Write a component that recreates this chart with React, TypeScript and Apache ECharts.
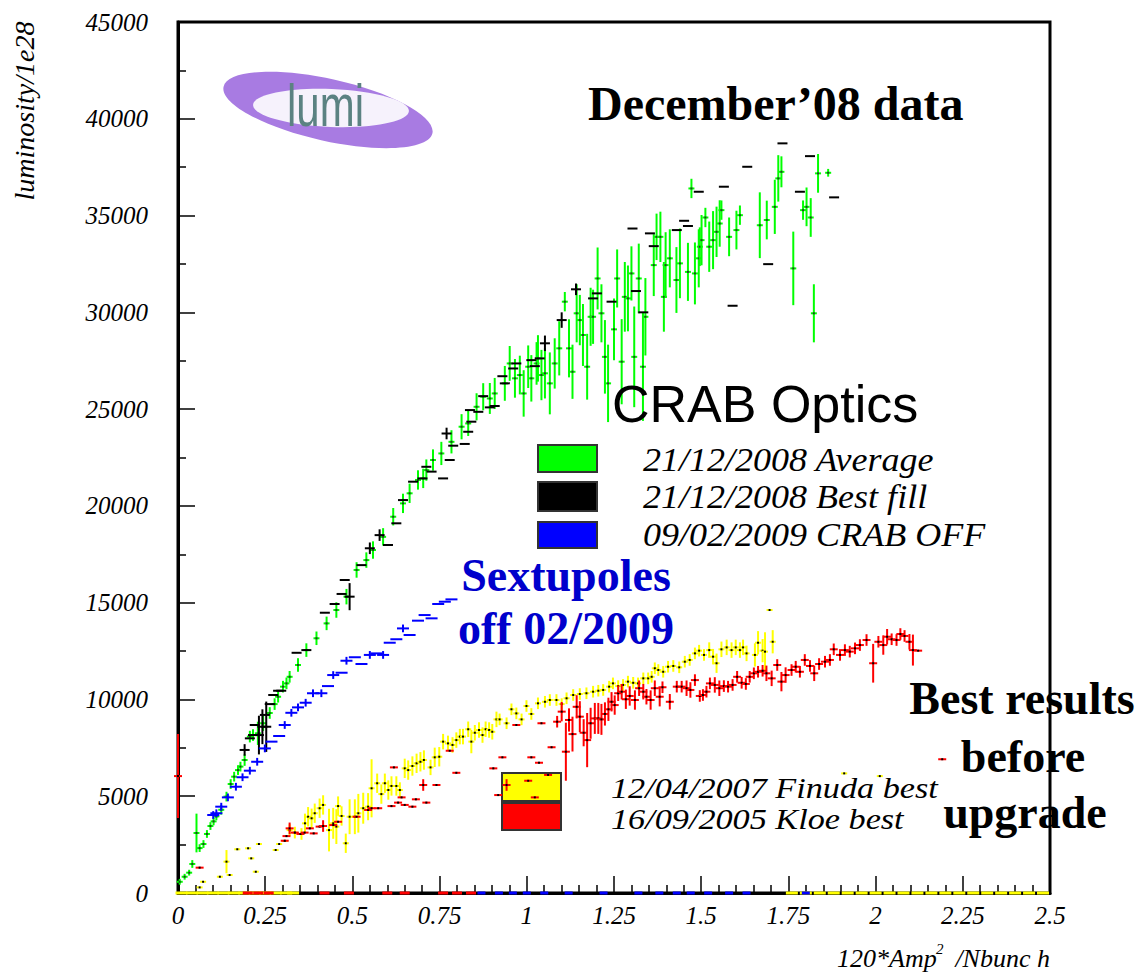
import React, { useEffect, useRef } from "react";
import * as echarts from "echarts";

// ---------------- data: [x, y, yError] ----------------
const greenAverage: number[][] = [
  [0.005, 580, 150], [0.019, 840, 150], [0.032, 1050, 150], [0.041, 1500, 200], [0.053, 3100, 1000],
  [0.062, 2320, 200], [0.073, 2530, 200], [0.083, 3050, 200], [0.093, 3460, 200], [0.102, 3700, 200],
  [0.110, 3960, 200], [0.124, 4300, 250], [0.139, 4980, 250], [0.151, 5630, 250], [0.161, 6010, 250],
  [0.172, 6350, 250], [0.179, 6530, 250], [0.191, 6870, 300], [0.206, 8080, 300], [0.215, 8160, 300],
  [0.229, 8250, 600], [0.244, 8770, 400], [0.263, 9300, 300], [0.277, 9760, 300], [0.287, 10140, 300],
  [0.301, 10660, 300], [0.311, 10830, 300], [0.320, 11170, 300], [0.344, 11780, 350], [0.368, 12550, 350],
  [0.397, 13160, 350], [0.426, 13930, 350], [0.454, 14620, 400], [0.483, 15310, 400], [0.512, 16690, 400],
  [0.540, 17200, 400], [0.559, 17720, 450], [0.588, 18400, 450], [0.617, 19440, 450], [0.645, 20130, 500],
  [0.664, 20650, 500], [0.688, 21340, 500], [0.703, 21420, 500], [0.712, 21850, 550], [0.731, 22370, 550],
  [0.755, 22710, 600], [0.784, 23310, 600], [0.813, 24090, 650], [0.832, 24260, 650], [0.856, 25120, 700],
  [0.875, 25640, 700], [0.894, 25550, 800], [0.908, 25810, 800], [0.937, 26330, 900], [0.951, 27360, 900],
  [0.966, 26590, 1000], [0.980, 26760, 1000], [0.991, 25810, 1200], [1.004, 27190, 1100], [1.013, 26590, 1200],
  [1.028, 27360, 1100], [1.032, 27620, 1200], [1.042, 26760, 1300], [1.052, 26850, 1300], [1.066, 26330, 1600],
  [1.080, 27360, 1300], [1.093, 28140, 1400], [1.109, 30550, 500], [1.121, 28140, 1500], [1.131, 26930, 1400],
  [1.143, 29950, 1500], [1.152, 29600, 1300], [1.161, 28830, 1600], [1.173, 27190, 1700], [1.183, 29770, 1500],
  [1.190, 29770, 1400], [1.203, 31750, 1600], [1.214, 29950, 1500], [1.224, 27700, 1900], [1.233, 26330, 2000],
  [1.250, 29120, 1600], [1.259, 31750, 1500], [1.272, 27450, 2200], [1.281, 30800, 1800], [1.290, 30720, 1700],
  [1.300, 32010, 1400], [1.308, 27700, 2600], [1.321, 31750, 1800], [1.333, 27190, 2800], [1.340, 29770, 2000],
  [1.364, 32440, 1600], [1.372, 33900, 1200], [1.383, 33900, 1300], [1.393, 30800, 1800], [1.398, 32440, 1700],
  [1.410, 32790, 1500], [1.429, 31670, 1700], [1.439, 32530, 1800], [1.462, 32090, 1500], [1.472, 36400, 500],
  [1.482, 32010, 1600], [1.493, 32790, 1500], [1.496, 33390, 1000], [1.501, 33730, 1300], [1.512, 34900, 500],
  [1.523, 33390, 1300], [1.534, 33730, 1500], [1.544, 34160, 1300], [1.553, 34590, 1200], [1.558, 35280, 500],
  [1.580, 33900, 1000], [1.601, 34250, 1000], [1.611, 35020, 500], [1.668, 34500, 1700], [1.688, 34770, 1000],
  [1.711, 35450, 1400], [1.721, 36920, 1200], [1.730, 37260, 800], [1.764, 32270, 1900], [1.792, 35280, 500],
  [1.802, 35450, 1000], [1.814, 34900, 1000], [1.823, 29950, 1500], [1.835, 37180, 1000], [1.864, 37210, 200],
];

const blackBestFill: number[][] = [
  [0.191, 7390, 300], [0.206, 7990, 0], [0.215, 8160, 0], [0.220, 8680, 0], [0.232, 8160, 1000],
  [0.242, 8590, 900], [0.249, 9200, 0], [0.253, 8590, 1300], [0.263, 9760, 0], [0.273, 10230, 0],
  [0.287, 10450, 0], [0.296, 10450, 0], [0.340, 12410, 0], [0.368, 12550, 0], [0.421, 14480, 0],
  [0.449, 14930, 0], [0.469, 15450, 0], [0.478, 16170, 0], [0.492, 15310, 700], [0.526, 16940, 0],
  [0.550, 17810, 300], [0.578, 18490, 300], [0.602, 17980, 0], [0.626, 19100, 0], [0.645, 20300, 0],
  [0.674, 21250, 0], [0.701, 21420, 0], [0.712, 22020, 0], [0.727, 21770, 0], [0.760, 21420, 0],
  [0.770, 23740, 300], [0.779, 22370, 0], [0.789, 23110, 0], [0.822, 23200, 0], [0.832, 23830, 0],
  [0.841, 24350, 0], [0.837, 24950, 0], [0.861, 24860, 0], [0.875, 25670, 0], [0.894, 25090, 0],
  [0.908, 25160, 0], [0.930, 26700, 0], [0.937, 26330, 0], [0.961, 27100, 0], [0.970, 27360, 0],
  [1.013, 27530, 0], [1.023, 27220, 0], [1.037, 27620, 0], [1.052, 28400, 400], [1.100, 29600, 400],
  [1.141, 31190, 300], [1.190, 30720, 0], [1.201, 30980, 0], [1.243, 30550, 0], [1.303, 34330, 0],
  [1.313, 31100, 0], [1.334, 30000, 0], [1.353, 34080, 0], [1.364, 33420, 0], [1.430, 34250, 0],
  [1.451, 34730, 0], [1.462, 34460, 0], [1.493, 36230, 0], [1.565, 36490, 0], [1.590, 30340, 0],
  [1.632, 37520, 0], [1.692, 32490, 0], [1.733, 38730, 0], [1.783, 36230, 0], [1.812, 38070, 0],
  [1.881, 35940, 0],
];

const blueCrabOff: number[][] = [
  [0.101, 4030, 200], [0.110, 4120, 200], [0.124, 4460, 200], [0.143, 4940, 200], [0.166, 5490, 200],
  [0.185, 5980, 200], [0.206, 6320, 200], [0.227, 6780, 200], [0.249, 7470, 200], [0.268, 7820, 0],
  [0.290, 8110, 0], [0.306, 8680, 200], [0.325, 9310, 200], [0.344, 9590, 200], [0.366, 9830, 200],
  [0.387, 10320, 200], [0.411, 10320, 200], [0.430, 10690, 0], [0.445, 11260, 200], [0.469, 11380, 0],
  [0.483, 12000, 200], [0.507, 12180, 0], [0.526, 11830, 0], [0.550, 12300, 200], [0.569, 12380, 0],
  [0.588, 12300, 200], [0.607, 12930, 0], [0.626, 13110, 0], [0.645, 13670, 200], [0.664, 13330, 0],
  [0.688, 14070, 0], [0.707, 14360, 0], [0.727, 14190, 0], [0.746, 14930, 0], [0.765, 15050, 0],
  [0.784, 15170, 0],
];

const yellowFinuda: number[][] = [
  [0.062, 290, 0], [0.072, 580, 0], [0.120, 840, 0], [0.139, 1620, 600], [0.148, 930, 0],
  [0.170, 2260, 0], [0.201, 2310, 0], [0.210, 1790, 0], [0.223, 1100, 0], [0.232, 2530, 0],
  [0.280, 2220, 0], [0.290, 2530, 0], [0.306, 2690, 0], [0.320, 3250, 300], [0.335, 3120, 300],
  [0.354, 3050, 300], [0.364, 3600, 500], [0.373, 3940, 500], [0.383, 3860, 500], [0.392, 4120, 500],
  [0.406, 4380, 500], [0.416, 4550, 500], [0.433, 3250, 1100], [0.445, 3600, 800], [0.454, 3430, 900],
  [0.459, 4490, 500], [0.469, 3980, 500], [0.481, 2570, 500], [0.492, 3940, 900], [0.507, 3940, 900],
  [0.517, 4120, 1000], [0.531, 4380, 800], [0.545, 4460, 700], [0.555, 5410, 1500], [0.571, 5670, 500],
  [0.583, 5110, 500], [0.593, 5670, 500], [0.603, 5320, 500], [0.612, 5530, 500], [0.626, 5530, 500],
  [0.636, 5320, 400], [0.650, 6440, 500], [0.660, 6350, 500], [0.672, 6560, 500], [0.684, 6700, 500],
  [0.695, 6780, 500], [0.705, 6870, 500], [0.724, 6490, 400], [0.736, 7010, 500], [0.749, 7040, 500],
  [0.760, 7820, 400], [0.774, 7730, 400], [0.787, 7650, 400], [0.798, 7900, 400], [0.808, 8080, 400],
  [0.817, 8080, 400], [0.832, 8460, 400], [0.841, 7820, 600], [0.851, 8280, 400], [0.863, 8420, 400],
  [0.873, 8160, 400], [0.882, 8460, 400], [0.892, 8420, 400], [0.901, 8330, 400], [0.913, 8970, 400],
  [0.922, 8970, 300], [0.942, 8770, 300], [0.956, 9490, 300], [0.970, 9280, 300], [0.985, 8970, 300],
  [0.999, 9660, 300], [1.013, 9250, 300], [1.032, 9800, 300], [1.052, 9880, 300], [1.066, 9970, 300],
  [1.085, 9970, 300], [1.100, 9760, 300], [1.114, 10060, 300], [1.133, 10230, 300], [1.152, 10280, 300],
  [1.171, 10320, 300], [1.190, 10400, 300], [1.205, 10450, 300], [1.219, 10490, 300], [1.236, 10660, 300],
  [1.247, 10830, 300], [1.262, 10690, 300], [1.276, 10750, 300], [1.290, 10920, 300], [1.305, 10860, 300],
  [1.319, 10830, 300], [1.334, 11090, 300], [1.348, 11090, 300], [1.358, 11170, 300], [1.367, 11610, 300],
  [1.377, 11520, 300], [1.391, 11430, 300], [1.405, 11690, 300], [1.420, 11730, 300], [1.437, 11660, 300],
  [1.453, 11950, 300], [1.467, 12040, 300], [1.482, 12380, 300], [1.494, 12520, 300], [1.508, 12300, 300],
  [1.523, 12550, 400], [1.534, 12210, 400], [1.544, 11870, 500], [1.558, 12590, 400], [1.573, 12690, 400],
  [1.587, 12550, 400], [1.599, 12690, 400], [1.611, 12550, 400], [1.620, 12690, 400], [1.630, 12380, 400],
  [1.654, 12300, 600], [1.663, 12930, 600], [1.676, 12520, 600], [1.683, 12470, 1000], [1.696, 14620, 0],
  [1.705, 12980, 600], [1.910, 6180, 0], [2.012, 6040, 0],
];

const redKloe: number[][] = [
  [0.000, 6040, 2170], [0.062, 1310, 0], [0.306, 2700, 0], [0.311, 2940, 0], [0.320, 3340, 300],
  [0.335, 3120, 0], [0.351, 3050, 0], [0.363, 3120, 0], [0.378, 3340, 0], [0.389, 3080, 0],
  [0.406, 3430, 0], [0.416, 3460, 300], [0.445, 3510, 0], [0.459, 3680, 0], [0.512, 3940, 0],
  [0.545, 4290, 0], [0.555, 4380, 0], [0.574, 4380, 0], [0.612, 4490, 0], [0.619, 6490, 0],
  [0.631, 4670, 0], [0.641, 4940, 0], [0.650, 4550, 0], [0.672, 4460, 0], [0.682, 4840, 0],
  [0.703, 5580, 300], [0.712, 4670, 0], [0.741, 5580, 0], [0.779, 7350, 0], [0.798, 6210, 0],
  [0.904, 6440, 0], [0.918, 5060, 0], [0.930, 7010, 0], [0.942, 5580, 300], [0.970, 8680, 0],
  [1.004, 5800, 0], [1.013, 7010, 0], [1.023, 4940, 0], [1.035, 6730, 0], [1.042, 8770, 0],
  [1.061, 6100, 0], [1.071, 7530, 0], [1.087, 8850, 300], [1.100, 9370, 500], [1.112, 7300, 1500],
  [1.121, 8940, 600], [1.131, 8210, 900], [1.143, 9620, 600], [1.152, 9110, 800], [1.163, 8280, 700],
  [1.173, 7900, 1400], [1.183, 8770, 800], [1.195, 9020, 800], [1.205, 9020, 800], [1.214, 8970, 800],
  [1.224, 9250, 600], [1.234, 9490, 600], [1.243, 9880, 500], [1.252, 9710, 500], [1.262, 10320, 400],
  [1.272, 10400, 400], [1.284, 10010, 500], [1.295, 10180, 500], [1.310, 9970, 500], [1.322, 10580, 400],
  [1.334, 10400, 400], [1.343, 10140, 400], [1.355, 9970, 500], [1.367, 10580, 400], [1.381, 10140, 500],
  [1.389, 10630, 300], [1.410, 9880, 400], [1.430, 10660, 300], [1.444, 10660, 300], [1.458, 10580, 400],
  [1.469, 10490, 400], [1.482, 11000, 300], [1.496, 10180, 300], [1.505, 10230, 300], [1.515, 10400, 300],
  [1.525, 10830, 300], [1.539, 10750, 400], [1.552, 10580, 400], [1.565, 10690, 300], [1.577, 10660, 300],
  [1.590, 10750, 300], [1.603, 11170, 300], [1.616, 10860, 300], [1.628, 10800, 300], [1.639, 11170, 300],
  [1.651, 11350, 300], [1.663, 11430, 300], [1.676, 11480, 300], [1.687, 11350, 400], [1.702, 11090, 400],
  [1.718, 11780, 300], [1.730, 10920, 500], [1.742, 11260, 400], [1.759, 11520, 300], [1.771, 11690, 300],
  [1.783, 11430, 300], [1.797, 12040, 300], [1.812, 11730, 300], [1.824, 11350, 400], [1.838, 11830, 300],
  [1.855, 11950, 300], [1.869, 12040, 300], [1.880, 12590, 300], [1.898, 12300, 300], [1.912, 12550, 300],
  [1.926, 12470, 300], [1.941, 12640, 300], [1.955, 12810, 300], [1.974, 13070, 300], [1.993, 11870, 1000],
  [2.008, 12980, 300], [2.022, 12810, 500], [2.033, 13240, 400], [2.046, 13110, 300], [2.060, 13070, 300],
  [2.071, 13380, 300], [2.083, 13280, 300], [2.097, 12980, 400], [2.107, 12550, 800], [2.122, 12520, 0],
  [2.191, 6910, 0],
];

// points recorded at zero luminosity (drawn on the x axis)
const yellowZeroX = [0.01, 0.04, 0.07, 0.10, 0.13, 0.16, 0.19, 0.22, 0.25, 0.28, 0.31, 0.33, 1.76, 1.8, 1.84, 1.88, 1.92, 1.96, 2.0, 2.04, 2.08, 2.12, 2.16, 2.2, 2.24, 2.28, 2.32, 2.36, 2.4, 2.44, 2.48];
const redZeroX = [0.2, 0.23, 0.26, 0.42, 0.49, 0.6, 0.65, 0.76, 0.8, 0.84];
const blueZeroX = [0.87, 0.92, 0.96, 1.0, 1.05, 1.12, 1.22, 1.32, 1.38, 1.43, 1.47, 1.52, 1.58, 1.63, 1.8];

const xTicks = [0, 0.25, 0.5, 0.75, 1, 1.25, 1.5, 1.75, 2, 2.25, 2.5];

const SERIF = "'Liberation Serif', 'DejaVu Serif', serif";
const SANS = "'Liberation Sans', Arial, sans-serif";

function errSeries(name: string, data: number[][], color: string, hw: number, lw: number, dot: string | null, z: number) {
  return {
    type: "custom",
    name,
    data,
    z,
    clip: false,
    encode: { x: 0, y: 1 },
    renderItem: (_p: any, api: any) => {
      const x = api.value(0);
      const y = api.value(1);
      const e = api.value(2);
      const c = api.coord([x, y]);
      const children: any[] = [
        { type: "line", shape: { x1: c[0] - hw, y1: c[1], x2: c[0] + hw, y2: c[1] }, style: { stroke: color, lineWidth: lw } },
      ];
      if (e > 0) {
        const t = api.coord([x, y + e]);
        const b = api.coord([x, y - e]);
        children.push({ type: "line", shape: { x1: c[0], y1: t[1], x2: c[0], y2: b[1] }, style: { stroke: color, lineWidth: lw } });
      }
      if (dot) {
        children.push({ type: "rect", shape: { x: c[0] - 1, y: c[1] - 1, width: 2, height: 2 }, style: { fill: dot } });
      }
      return { type: "group", children };
    },
  };
}

export default function App() {
  const ref = useRef<HTMLDivElement>(null);
  useEffect(() => {
    if (!ref.current) return;
    const chart = echarts.init(ref.current, null, { renderer: "svg" });
    const zeroPts = (xs: number[]) => xs.map((x) => [x, 0, 0]);
    const legendBox = (y: number, h: number, fill: string, x = 538) => ({
      type: "rect",
      shape: { x, y, width: 59, height: h },
      style: { fill, stroke: "#333", lineWidth: 2 },
      z: 10,
    });
    const txt = (text: string, x: number, y: number, font: any, fill = "#000", align = "left", sx = 1) => ({
      type: "text",
      x,
      y,
      z: 20,
      scaleX: sx,
      style: { text, fill, align, verticalAlign: "middle", textAlign: align, textVerticalAlign: "middle", ...font },
    });
    const italic = (size: number) => ({ fontFamily: SERIF, fontStyle: "italic", fontSize: size });
    const bold = (size: number) => ({ fontFamily: SERIF, fontWeight: "bold", fontSize: size });

    chart.setOption({
      animation: false,
      backgroundColor: "#fff",
      grid: { left: 178, top: 22, width: 872, height: 871, show: true, borderColor: "#000", borderWidth: 3, backgroundColor: "transparent" },
      xAxis: {
        type: "value",
        min: 0,
        max: 2.5,
        interval: 0.25,
        axisLine: { show: true, onZero: false, lineStyle: { color: "#000", width: 3 } },
        axisTick: { show: true, inside: true, length: 17, lineStyle: { color: "#000", width: 1.5 } },
        minorTick: { show: true, splitNumber: 5, length: 8, lineStyle: { color: "#000", width: 1.5 } },
        splitLine: { show: false },
        axisLabel: {
          margin: 10,
          fontFamily: SERIF,
          fontStyle: "italic",
          fontSize: 25,
          color: "#000",
          formatter: (v: number) => String(xTicks.find((t) => Math.abs(t - v) < 1e-9) ?? v),
        },
      },
      yAxis: {
        type: "value",
        min: 0,
        max: 45000,
        interval: 5000,
        axisLine: { show: true, onZero: false, lineStyle: { color: "#000", width: 3 } },
        axisTick: { show: true, inside: true, length: 17, lineStyle: { color: "#000", width: 1.5 } },
        minorTick: { show: true, splitNumber: 2, length: 8, lineStyle: { color: "#000", width: 1.5 } },
        splitLine: { show: false },
        axisLabel: {
          margin: 30,
          fontFamily: SERIF,
          fontStyle: "italic",
          fontSize: 25,
          color: "#000",
          formatter: (v: number) => String(v),
        },
      },
      series: [
        errSeries("21/12/2008 Average", greenAverage, "#00ff00", 3, 2, "#224422", 3),
        errSeries("21/12/2008 Best fill", blackBestFill, "#000000", 5, 2, null, 4),
        errSeries("09/02/2009 CRAB OFF", blueCrabOff, "#0000ff", 6, 2, null, 4),
        errSeries("12/04/2007 Finuda best", yellowFinuda, "#ffff00", 3, 2, "#000", 5),
        errSeries("16/09/2005 Kloe best", redKloe, "#ff0000", 4, 2, "#000", 6),
        errSeries("Finuda zero", zeroPts(yellowZeroX), "#ffff00", 6, 3, null, 1),
        errSeries("Kloe zero", zeroPts(redZeroX), "#ff0000", 5, 3, null, 2),
        errSeries("CRAB OFF zero", zeroPts(blueZeroX), "#0000ff", 4, 3, null, 2),
      ],
      graphic: [
        // lumi logo
        { type: "ellipse", x: 328, y: 110, rotation: -0.22, shape: { cx: 0, cy: 0, rx: 107, ry: 31 }, style: { fill: "#a87be2" }, z: 1 },
        { type: "ellipse", x: 331, y: 108, rotation: -0.04, shape: { cx: 0, cy: 0, rx: 78, ry: 19 }, style: { fill: "#f6f2fc" }, z: 1 },
        { type: "text", x: 287, y: 105, scaleX: 0.7, z: 2, style: { text: "lumi", fill: "#5b8282", fontFamily: SANS, fontSize: 60, textVerticalAlign: "middle", verticalAlign: "middle" } },
        // titles
        txt("December\u201908 data", 588, 103, bold(48)),
        txt("CRAB Optics", 612, 404, { fontFamily: SANS, fontSize: 52 }),
        legendBox(445, 27, "#00ff00"),
        legendBox(482, 29, "#000000"),
        legendBox(522, 26, "#0000ff"),
        txt("21/12/2008 Average", 643, 460, italic(34), "#000", "left", 1.06),
        txt("21/12/2008 Best fill", 643, 497, italic(34), "#000", "left", 1.06),
        txt("09/02/2009 CRAB OFF", 643, 535, italic(34), "#000", "left", 1.06),
        txt("Sextupoles", 566, 575, bold(46), "#0000cc", "center"),
        txt("off 02/2009", 566, 628, bold(46), "#0000cc", "center"),
        { type: "rect", shape: { x: 502, y: 773, width: 59, height: 28 }, style: { fill: "#ffff00", stroke: "#333", lineWidth: 2 }, z: 0 },
        { type: "rect", shape: { x: 502, y: 803, width: 59, height: 27 }, style: { fill: "#ff0000", stroke: "#333", lineWidth: 2 }, z: 0 },
        txt("12/04/2007 Finuda best", 611, 788, italic(29), "#000", "left", 1.18),
        txt("16/09/2005 Kloe best", 611, 819, italic(29), "#000", "left", 1.18),
        txt("Best results", 1022, 698, bold(46), "#000", "center"),
        txt("before", 1023, 756, bold(46), "#000", "center"),
        txt("upgrade", 1025, 812, bold(46), "#000", "center"),
        // axis names
        { type: "text", x: 24, y: 111, rotation: Math.PI / 2, z: 20, style: { text: "luminosity/1e28", fill: "#000", fontFamily: SERIF, fontStyle: "italic", fontSize: 28, textAlign: "center", textVerticalAlign: "middle", align: "center", verticalAlign: "middle" } },
        txt("120*Amp", 837, 958, italic(26)),
        txt("2", 936, 949, italic(15)),
        txt("/Nbunc h", 1050, 958, italic(26), "#000", "right"),
      ],
    });
    return () => chart.dispose();
  }, []);
  return <div ref={ref} style={{ position: "fixed", left: 0, top: 0, width: 1143, height: 975 }} />;
}
